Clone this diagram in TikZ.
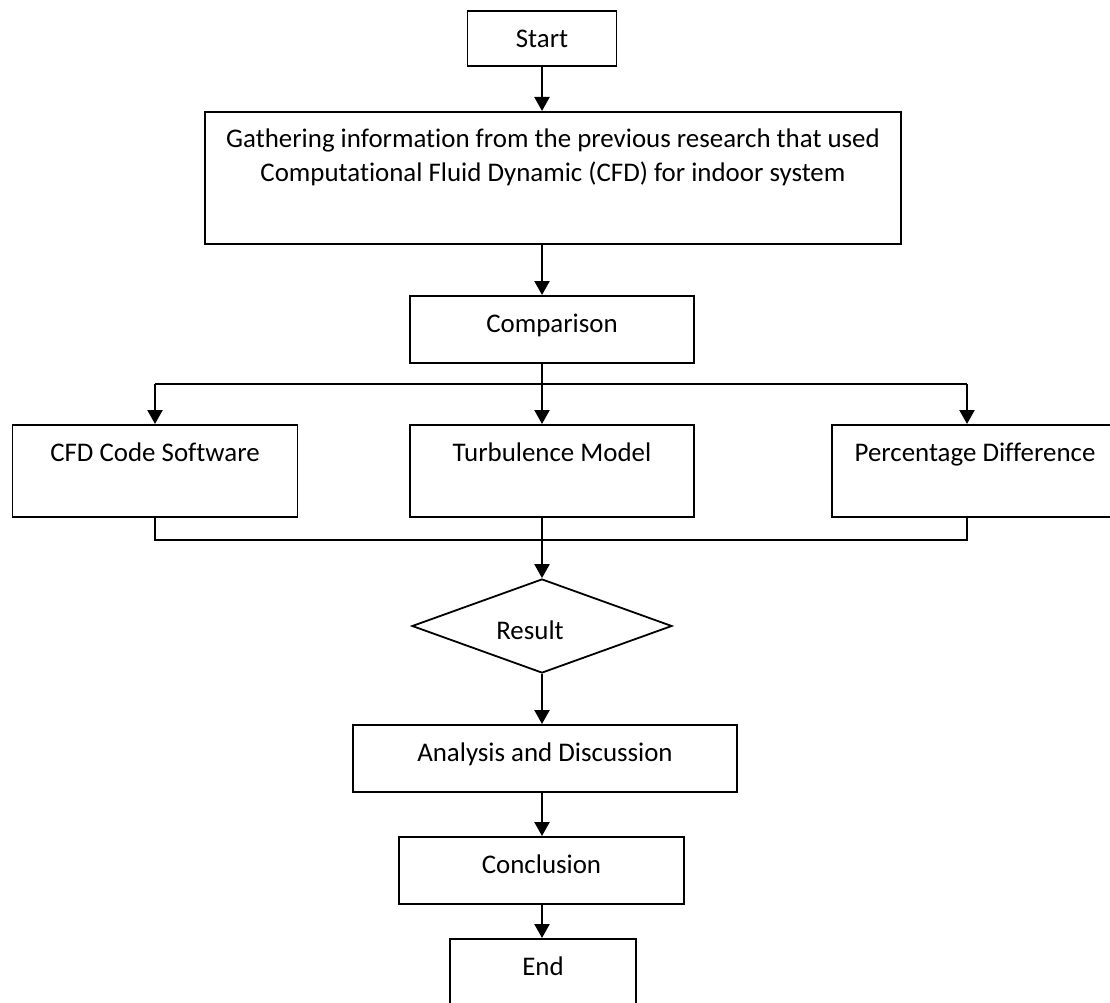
\documentclass[tikz,border=0pt]{standalone}
\usepackage{fontspec}
\setmainfont{Carlito}[Ligatures=NoCommon]
\usetikzlibrary{arrows.meta,shapes.geometric}

\begin{document}
\begin{tikzpicture}[x=1pt,y=-1pt,font=\fontsize{26.9}{34}\selectfont,
    b/.style={draw,line width=1.8pt,anchor=north,inner sep=0pt,align=center,text height=36.5pt},
    dm/.style={draw,line width=1.8pt,diamond,aspect=2.77,inner sep=0pt,
               minimum width=260pt,minimum height=94pt,text height=26pt,text depth=0pt},
    arr/.style={-{Triangle[length=14pt,width=15pt]},line width=2.3pt},
    ln/.style={line width=1.8pt}]
\fill[white] (0,0) rectangle (1110,1003);
\useasboundingbox (0,0) rectangle (1110,1003);
\clip (0,0) rectangle (1110,1003);
% main column
\coordinate (spine) at (542,0);
\coordinate (pdrop) at (967,0);
\coordinate (split) at (542,384);
\coordinate (merge) at (542,540);
\node[b,minimum width=149pt,text depth=18.5pt] (start) at (542,10) {Start};
\node[b,minimum width=696pt,text height=69.7pt,text depth=62.3pt] (gather) at (553,111)
  {Gathering information from the previous research that used\\Computational Fluid Dynamic (CFD) for indoor system};
\node[b,minimum width=284pt,text depth=30.5pt] (comp) at (552,295) {Comparison};
% three branches
\node[b,minimum width=285pt,text depth=55.5pt] (cfd) at (155,424) {CFD Code Software};
\node[b,minimum width=284pt,text depth=55.5pt] (turb) at (552,424) {Turbulence Model};
\node[b,minimum width=286pt,text depth=55.5pt] (perc) at (975,424) {Percentage Difference};
\node[dm] (res) at (542,626) {Result\hspace*{24pt}};
\node[b,minimum width=384pt,text depth=30.5pt] (anal) at (545,724) {Analysis and Discussion};
\node[b,minimum width=285pt,text depth=30.5pt] (concl) at (541.5,836) {Conclusion};
\node[b,minimum width=186pt,text depth=53.5pt] (end) at (543,938) {End};
% connectors
\draw[arr] (start.south) -- (gather.north -| spine);
\draw[arr] (gather.south -| spine) -- (comp.north -| spine);
\draw[ln] (split -| cfd.north) -- (split -| pdrop);
\draw[arr] (split -| cfd.north) -- (cfd.north);
\draw[arr] (comp.south -| spine) -- (turb.north -| spine);
\draw[arr] (split -| pdrop) -- (perc.north -| pdrop);
\draw[ln] (cfd.south) -- (merge -| cfd.south) -- (merge -| pdrop) -- (perc.south -| pdrop);
\draw[arr] (turb.south -| spine) -- (res.north);
\draw[arr] (res.south) -- (anal.north -| spine);
\draw[arr] (anal.south -| spine) -- (concl.north -| spine);
\draw[arr] (concl.south -| spine) -- (end.north -| spine);
\end{tikzpicture}
\end{document}
